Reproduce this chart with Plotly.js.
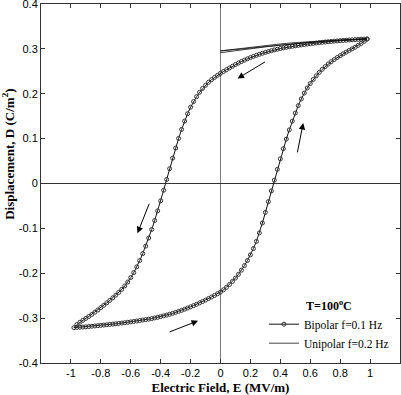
<!DOCTYPE html>
<html>
<head>
<meta charset="utf-8">
<script src="https://cdn.plot.ly/plotly-3.0.1.min.js"></script>
<style>
  html, body { margin: 0; padding: 0; background: #fff; }
  #graph { width: 401px; height: 395px; }
</style>
</head>
<body>
<div id="graph"></div>
<script>
// bipolar loop, field going down (upper branch)
const eDown = [0.98, 0.96, 0.94, 0.92, 0.9, 0.88, 0.86, 0.84, 0.82, 0.8,
  0.78, 0.76, 0.74, 0.72, 0.7, 0.68, 0.66, 0.64, 0.62, 0.6,
  0.58, 0.56, 0.54, 0.52, 0.5, 0.48, 0.46, 0.44, 0.42, 0.4,
  0.38, 0.36, 0.34, 0.32, 0.3, 0.28, 0.26, 0.24, 0.22, 0.2,
  0.18, 0.16, 0.14, 0.12, 0.1, 0.08, 0.06, 0.04, 0.02, 0,
  -0.02, -0.04, -0.06, -0.08, -0.1, -0.12, -0.14, -0.16, -0.18, -0.2,
  -0.22, -0.24, -0.26, -0.28, -0.3, -0.32, -0.34, -0.36, -0.38, -0.4,
  -0.42, -0.44, -0.46, -0.48, -0.5, -0.52, -0.54, -0.56, -0.58, -0.6,
  -0.62, -0.64, -0.66, -0.68, -0.7, -0.72, -0.74, -0.76, -0.78, -0.8,
  -0.82, -0.84, -0.86, -0.88, -0.9, -0.92, -0.94, -0.96, -0.98];
const dDown = [0.322, 0.3218, 0.3215, 0.3211, 0.3207, 0.3202, 0.3198, 0.3193, 0.3188, 0.3183,
  0.3178, 0.3172, 0.3166, 0.316, 0.3153, 0.3146, 0.3139, 0.3131, 0.3123, 0.3115,
  0.3106, 0.3097, 0.3088, 0.3078, 0.3068, 0.3057, 0.3046, 0.3034, 0.3021, 0.3007,
  0.2992, 0.2976, 0.2959, 0.2941, 0.2922, 0.2902, 0.288, 0.2857, 0.2832, 0.2806,
  0.2778, 0.2749, 0.2718, 0.2685, 0.265, 0.2613, 0.2574, 0.2535, 0.2496, 0.2455,
  0.2411, 0.2364, 0.2313, 0.2257, 0.2188, 0.2118, 0.2032, 0.1935, 0.1825, 0.17,
  0.1555, 0.139, 0.1205, 0.1005, 0.079, 0.0565, 0.033, 0.009, -0.015, -0.0385,
  -0.061, -0.0825, -0.1025, -0.1215, -0.1395, -0.1562, -0.1717, -0.1858, -0.1985, -0.2097,
  -0.2195, -0.2282, -0.2358, -0.2425, -0.2488, -0.2548, -0.2605, -0.266, -0.2713, -0.2765,
  -0.2818, -0.2868, -0.2916, -0.2962, -0.3006, -0.3048, -0.3092, -0.3142, -0.3212];

// bipolar loop, field going up (lower branch)
const eUp = [-0.96, -0.94, -0.92, -0.9, -0.88, -0.86, -0.84, -0.82, -0.8,
  -0.78, -0.76, -0.74, -0.72, -0.7, -0.68, -0.66, -0.64, -0.62, -0.6,
  -0.58, -0.56, -0.54, -0.52, -0.5, -0.48, -0.46, -0.44, -0.42, -0.4,
  -0.38, -0.36, -0.34, -0.32, -0.3, -0.28, -0.26, -0.24, -0.22, -0.2,
  -0.18, -0.16, -0.14, -0.12, -0.1, -0.08, -0.06, -0.04, -0.02, 0,
  0.02, 0.04, 0.06, 0.08, 0.1, 0.12, 0.14, 0.16, 0.18, 0.2,
  0.22, 0.24, 0.26, 0.28, 0.3, 0.32, 0.34, 0.36, 0.38, 0.4,
  0.42, 0.44, 0.46, 0.48, 0.5, 0.52, 0.54, 0.56, 0.58, 0.6,
  0.62, 0.64, 0.66, 0.68, 0.7, 0.72, 0.74, 0.76, 0.78, 0.8,
  0.82, 0.84, 0.86, 0.88, 0.9, 0.92, 0.94, 0.96, 0.98];
const dUp = [-0.3207, -0.3203, -0.3198, -0.3193, -0.3187, -0.3181, -0.3175, -0.3168, -0.3161,
  -0.3154, -0.3147, -0.314, -0.3133, -0.3126, -0.3118, -0.311, -0.3102, -0.3093, -0.3084,
  -0.3074, -0.3064, -0.3053, -0.3043, -0.3033, -0.3022, -0.301, -0.2996, -0.2982, -0.2966,
  -0.2949, -0.2932, -0.2913, -0.2893, -0.2871, -0.2849, -0.2826, -0.2801, -0.2775, -0.2749,
  -0.2721, -0.2692, -0.2661, -0.263, -0.2598, -0.2564, -0.253, -0.2494, -0.2457, -0.2419,
  -0.2368, -0.2312, -0.225, -0.2182, -0.2107, -0.2024, -0.1932, -0.183, -0.1717, -0.159,
  -0.145, -0.129, -0.11, -0.088, -0.0645, -0.0405, -0.0165, 0.0075, 0.0315, 0.055,
  0.0775, 0.099, 0.1195, 0.139, 0.157, 0.1735, 0.1885, 0.2015, 0.2128, 0.2228,
  0.2318, 0.24, 0.2475, 0.2543, 0.2605, 0.2662, 0.2714, 0.2762, 0.2807, 0.2849,
  0.2889, 0.2927, 0.2964, 0.3, 0.3037, 0.3077, 0.312, 0.3168, 0.322];

// unipolar loop (two cycles)
const eUni = [0, 0.1, 0.2, 0.3, 0.4, 0.5, 0.6, 0.7, 0.8, 0.9, 0.98,
  0.9, 0.8, 0.7, 0.6, 0.5, 0.4, 0.3, 0.2, 0.1, 0,
  0.1, 0.2, 0.3, 0.4, 0.5, 0.6, 0.7, 0.8, 0.9, 0.98];
const dUni = [0.2915, 0.2962, 0.3005, 0.3045, 0.3082, 0.3115, 0.3145, 0.3172, 0.3195, 0.3212, 0.3225,
  0.3217, 0.3203, 0.3186, 0.3165, 0.314, 0.311, 0.3075, 0.3036, 0.2995, 0.2955,
  0.2985, 0.302, 0.3055, 0.309, 0.312, 0.3148, 0.3174, 0.3197, 0.3213, 0.3226];

const xTicks = [-1, -0.8, -0.6, -0.4, -0.2, 0, 0.2, 0.4, 0.6, 0.8, 1];
const yTicks = [-0.4, -0.3, -0.2, -0.1, 0, 0.1, 0.2, 0.3, 0.4];

// direction arrows: [tailE, tailD, headE, headD]
const arrows = [
  [0.308, 0.273, 0.114, 0.234],
  [0.512, 0.066, 0.553, 0.135],
  [-0.473, -0.042, -0.555, -0.111],
  [-0.35, -0.332, -0.15, -0.306],
];

const serif = "Liberation Serif, Times New Roman, serif";

const bipolar = {
  x: eDown.concat(eUp),
  y: dDown.concat(dUp),
  type: "scatter",
  mode: "lines+markers",
  name: "Bipolar f=0.1 Hz",
  line: { color: "#111", width: 1 },
  marker: { symbol: "circle-open", size: 4, color: "#333", line: { width: 1 } },
};

const unipolar = {
  x: eUni,
  y: dUni,
  type: "scatter",
  mode: "lines",
  name: "Unipolar f=0.2 Hz",
  line: { color: "#111", width: 0.8 },
};

const axisStyle = {
  showline: true,
  linecolor: "#333",
  linewidth: 1,
  mirror: "ticks",
  ticks: "inside",
  ticklen: 4,
  tickcolor: "#333",
  showgrid: false,
  zeroline: true,
  zerolinewidth: 1,
  ticklabeloverflow: "allow",
  tickfont: { family: "Liberation Sans, Arial, sans-serif", size: 11, color: "#000" },
};

const layout = {
  width: 401,
  height: 395,
  margin: { l: 41, r: 1, t: 4, b: 32, autoexpand: false },
  paper_bgcolor: "#fff",
  plot_bgcolor: "#fff",
  showlegend: true,
  xaxis: Object.assign({}, axisStyle, {
    range: [-1.2, 1.2],
    tickvals: xTicks,
    ticktext: xTicks.map(String),
    zerolinecolor: "#777",
    title: {
      text: "Electric Field, E (MV/m)",
      font: { family: serif, size: 13, color: "#000", weight: "bold" },
      standoff: 4,
    },
  }),
  yaxis: Object.assign({}, axisStyle, {
    range: [-0.4, 0.4],
    tickvals: yTicks,
    ticktext: yTicks.map(String),
    zerolinecolor: "#333",
  }),
  legend: {
    x: 0.621,
    y: 0.192,
    xanchor: "left",
    yanchor: "top",
    bgcolor: "rgba(0,0,0,0)",
    font: { family: serif, size: 11.5, color: "#000" },
    title: {
      text: "<b>T=100<sup>o</sup>C</b>",
      side: "top center",
      font: { family: serif, size: 12, color: "#000" },
    },
    tracegroupgap: 0,
    itemwidth: 30,
  },
  annotations: arrows.map(a => ({
    x: a[2], y: a[3], ax: a[0], ay: a[1],
    xref: "x", yref: "y", axref: "x", ayref: "y",
    text: "", showarrow: true,
    arrowhead: 2, arrowsize: 1.3, arrowwidth: 1, arrowcolor: "#000",
  })).concat([{
    text: "Displacement, D (C/m<sup>2</sup>)",
    textangle: -90,
    xref: "paper", yref: "paper",
    x: 0, y: 0.58,
    xanchor: "center", yanchor: "middle",
    xshift: -33,
    showarrow: false,
    font: { family: serif, size: 13, color: "#000", weight: "bold" },
  }]),
};

Plotly.newPlot("graph", [bipolar, unipolar], layout, { staticPlot: true });
</script>
</body>
</html>
